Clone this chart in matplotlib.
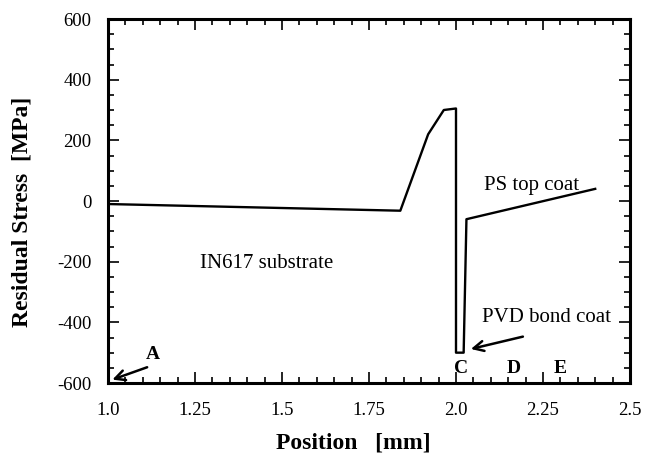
import matplotlib
matplotlib.use("Agg")
import matplotlib.pyplot as plt
from matplotlib.ticker import MultipleLocator

position = [1.0, 1.84, 1.92, 1.965, 2.0, 2.0, 2.022, 2.03, 2.40]
stress = [-10, -32, 220, 300, 305, -500, -500, -60, 40]

xticks = [1.0, 1.25, 1.5, 1.75, 2.0, 2.25, 2.5]
xticklabels = ["1.0", "1.25", "1.5", "1.75", "2.0", "2.25", "2.5"]
yticks = [-600, -400, -200, 0, 200, 400, 600]
yticklabels = ["-600", "-400", "-200", "0", "200", "400", "600"]

plt.rcParams['font.family'] = ['Liberation Serif', 'DejaVu Serif']
plt.rcParams['axes.unicode_minus'] = False

fig = plt.figure(figsize=(6.52, 4.53), dpi=100)
ax = fig.add_axes([108/652, 1 - 383/453, (630-108)/652, (383-19)/453])

ax.plot(position, stress, color='black', lw=1.7)

ax.set_xlim(1.0, 2.5)
ax.set_ylim(-600, 600)
ax.set_xticks(xticks)
ax.set_xticklabels(xticklabels)
ax.set_yticks(yticks)
ax.set_yticklabels(yticklabels)
ax.xaxis.set_minor_locator(MultipleLocator(0.05))
ax.yaxis.set_minor_locator(MultipleLocator(50))
ax.tick_params(which='both', direction='in', top=True, right=True, width=1.2)
ax.tick_params(which='major', length=8, labelsize=13.5)
ax.tick_params(axis='x', which='major', pad=14)
ax.tick_params(axis='y', which='major', pad=12)
ax.tick_params(which='minor', length=4)
for s in ax.spines.values():
    s.set_linewidth(2.2)

ax.set_xlabel("Position   [mm]", fontsize=17, fontweight='bold', labelpad=5)
ax.xaxis.set_label_coords(0.47, -0.135)
ax.set_ylabel("Residual Stress  [MPa]", fontsize=17, fontweight='bold', labelpad=12)
ax.yaxis.set_label_coords(-0.145, 0.47)

ax.text(1.265, -205, "IN617 substrate", fontsize=15, ha='left', va='center')
ax.text(2.08, 50, "PS top coat", fontsize=15, ha='left', va='center')
ax.text(2.075, -385, "PVD bond coat", fontsize=15, ha='left', va='center')
ax.annotate("", xy=(2.035, -490), xytext=(2.2, -445),
            arrowprops=dict(arrowstyle='->', color='black', lw=1.8, mutation_scale=18))
ax.text(1.13, -505, "A", fontsize=14, fontweight='bold', ha='center', va='center')
ax.annotate("", xy=(1.005, -592), xytext=(1.12, -545),
            arrowprops=dict(arrowstyle='->', color='black', lw=1.8, mutation_scale=18))
for lab, xx in [("C", 2.015), ("D", 2.165), ("E", 2.30)]:
    ax.text(xx, -552, lab, fontsize=14, fontweight='bold', ha='center', va='center')

fig.savefig("out.png", dpi=100)
